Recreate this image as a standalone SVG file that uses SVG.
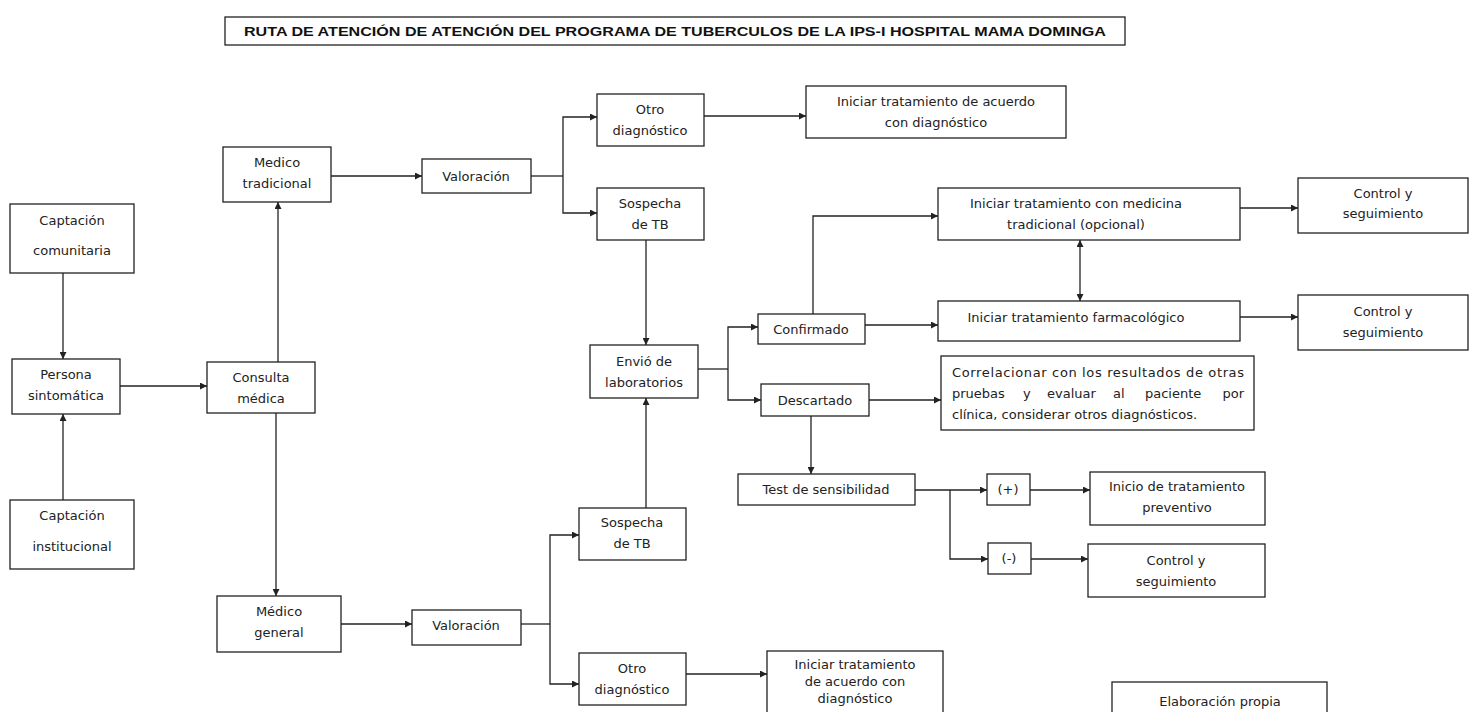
<svg xmlns="http://www.w3.org/2000/svg" width="1469" height="712" viewBox="0 0 1469 712">
  <style>
    .box { fill: #ffffff; stroke: #222222; stroke-width: 1.3; }
    .t { font-family: "DejaVu Sans", "Liberation Sans", sans-serif; font-size: 13px; fill: #222222; text-anchor: middle; dominant-baseline: central; }
    .tl { font-family: "DejaVu Sans", "Liberation Sans", sans-serif; font-size: 13px; fill: #222222; dominant-baseline: central; }
    .title { font-family: "Liberation Sans", "DejaVu Sans", sans-serif; font-size: 12.5px; font-weight: bold; fill: #111111; text-anchor: middle; dominant-baseline: central; }
    .c { fill: none; stroke: #222222; stroke-width: 1.3; }
  </style>
  <defs>
    <marker id="arrow" viewBox="0 0 10 10" refX="10" refY="5" markerWidth="8" markerHeight="7" markerUnits="userSpaceOnUse" orient="auto-start-reverse">
      <path d="M0,0 L10,5 L0,10 z" fill="#222222"/>
    </marker>
  </defs>
  <rect width="1469" height="712" fill="#ffffff"/>

  <!-- title -->
  <g id="title">
    <rect class="box" x="225" y="17" width="900" height="28"/>
    <text class="title" x="675" y="31.5" textLength="862" lengthAdjust="spacingAndGlyphs">RUTA DE ATENCIÓN DE ATENCIÓN DEL PROGRAMA DE TUBERCULOS DE LA IPS-I HOSPITAL MAMA DOMINGA</text>
  </g>

  <!-- connectors -->
  <g id="connectors">
    <path class="c" d="M63,273 V359" marker-end="url(#arrow)"/>
    <path class="c" d="M63,500 V414" marker-end="url(#arrow)"/>
    <path class="c" d="M120,386 H207" marker-end="url(#arrow)"/>
    <path class="c" d="M278,362 V202" marker-end="url(#arrow)"/>
    <path class="c" d="M276,413 V596" marker-end="url(#arrow)"/>
    <path class="c" d="M331,176 H422" marker-end="url(#arrow)"/>
    <path class="c" d="M531,176 H563"/>
    <path class="c" d="M563,176 V117 H597" marker-end="url(#arrow)"/>
    <path class="c" d="M563,176 V213 H597" marker-end="url(#arrow)"/>
    <path class="c" d="M704,116 H806" marker-end="url(#arrow)"/>
    <path class="c" d="M646,240 V345" marker-end="url(#arrow)"/>
    <path class="c" d="M341,624 H412" marker-end="url(#arrow)"/>
    <path class="c" d="M521,624 H550"/>
    <path class="c" d="M550,624 V535 H579" marker-end="url(#arrow)"/>
    <path class="c" d="M550,624 V684 H579" marker-end="url(#arrow)"/>
    <path class="c" d="M686,674 H767" marker-end="url(#arrow)"/>
    <path class="c" d="M646,508 V398" marker-end="url(#arrow)"/>
    <path class="c" d="M698,369 H728"/>
    <path class="c" d="M728,369 V327 H758" marker-end="url(#arrow)"/>
    <path class="c" d="M728,369 V400 H761" marker-end="url(#arrow)"/>
    <path class="c" d="M865,325 H938" marker-end="url(#arrow)"/>
    <path class="c" d="M813,314 V216 H938" marker-end="url(#arrow)"/>
    <path class="c" d="M1080,240 V301" marker-start="url(#arrow)" marker-end="url(#arrow)"/>
    <path class="c" d="M1240,208 H1298" marker-end="url(#arrow)"/>
    <path class="c" d="M1240,317 H1298" marker-end="url(#arrow)"/>
    <path class="c" d="M869,400 H941" marker-end="url(#arrow)"/>
    <path class="c" d="M811,416 V474" marker-end="url(#arrow)"/>
    <path class="c" d="M915,490 H950"/>
    <path class="c" d="M950,490 H987" marker-end="url(#arrow)"/>
    <path class="c" d="M950,490 V559 H988" marker-end="url(#arrow)"/>
    <path class="c" d="M1030,490 H1090" marker-end="url(#arrow)"/>
    <path class="c" d="M1031,559 H1088" marker-end="url(#arrow)"/>
  </g>

  <!-- nodes -->
  <g id="captacion-comunitaria">
    <rect class="box" x="10" y="204" width="124" height="69"/>
    <text class="t" x="72" y="220">Captación</text>
    <text class="t" x="72" y="250">comunitaria</text>
  </g>
  <g id="persona-sintomatica">
    <rect class="box" x="12" y="359" width="108" height="55"/>
    <text class="t" x="66" y="374">Persona</text>
    <text class="t" x="66" y="395">sintomática</text>
  </g>
  <g id="captacion-institucional">
    <rect class="box" x="10" y="500" width="124" height="69"/>
    <text class="t" x="72" y="515">Captación</text>
    <text class="t" x="72" y="546">institucional</text>
  </g>
  <g id="consulta-medica">
    <rect class="box" x="207" y="362" width="108" height="51"/>
    <text class="t" x="261" y="377">Consulta</text>
    <text class="t" x="261" y="398">médica</text>
  </g>
  <g id="medico-tradicional">
    <rect class="box" x="223" y="147" width="108" height="55"/>
    <text class="t" x="277" y="162">Medico</text>
    <text class="t" x="277" y="183">tradicional</text>
  </g>
  <g id="medico-general">
    <rect class="box" x="217" y="596" width="124" height="56"/>
    <text class="t" x="279" y="611">Médico</text>
    <text class="t" x="279" y="632">general</text>
  </g>
  <g id="valoracion-1">
    <rect class="box" x="422" y="159" width="109" height="34"/>
    <text class="t" x="476" y="176">Valoración</text>
  </g>
  <g id="valoracion-2">
    <rect class="box" x="412" y="610" width="109" height="35"/>
    <text class="t" x="466" y="625">Valoración</text>
  </g>
  <g id="otro-diagnostico-1">
    <rect class="box" x="597" y="94" width="107" height="52"/>
    <text class="t" x="650" y="109">Otro</text>
    <text class="t" x="650" y="130">diagnóstico</text>
  </g>
  <g id="sospecha-tb-1">
    <rect class="box" x="597" y="188" width="107" height="52"/>
    <text class="t" x="650" y="203">Sospecha</text>
    <text class="t" x="650" y="224">de TB</text>
  </g>
  <g id="iniciar-acuerdo-1">
    <rect class="box" x="806" y="86" width="260" height="52"/>
    <text class="t" x="936" y="101">Iniciar tratamiento de acuerdo</text>
    <text class="t" x="936" y="122">con diagnóstico</text>
  </g>
  <g id="envio-laboratorios">
    <rect class="box" x="590" y="345" width="108" height="53"/>
    <text class="t" x="644" y="361">Envió de</text>
    <text class="t" x="644" y="382">laboratorios</text>
  </g>
  <g id="sospecha-tb-2">
    <rect class="box" x="579" y="508" width="107" height="52"/>
    <text class="t" x="632" y="522">Sospecha</text>
    <text class="t" x="632" y="543">de TB</text>
  </g>
  <g id="otro-diagnostico-2">
    <rect class="box" x="579" y="653" width="107" height="52"/>
    <text class="t" x="632" y="668">Otro</text>
    <text class="t" x="632" y="689">diagnóstico</text>
  </g>
  <g id="iniciar-acuerdo-2">
    <rect class="box" x="767" y="651" width="176" height="62"/>
    <text class="t" x="855" y="664">Iniciar tratamiento</text>
    <text class="t" x="855" y="681">de acuerdo con</text>
    <text class="t" x="855" y="698">diagnóstico</text>
  </g>
  <g id="confirmado">
    <rect class="box" x="758" y="314" width="107" height="30"/>
    <text class="t" x="811" y="329">Confirmado</text>
  </g>
  <g id="descartado">
    <rect class="box" x="761" y="384" width="108" height="32"/>
    <text class="t" x="815" y="400">Descartado</text>
  </g>
  <g id="iniciar-medicina-tradicional">
    <rect class="box" x="938" y="188" width="302" height="52"/>
    <text class="t" x="1076" y="203">Iniciar tratamiento con medicina</text>
    <text class="t" x="1076" y="224">tradicional (opcional)</text>
  </g>
  <g id="iniciar-farmacologico">
    <rect class="box" x="938" y="301" width="302" height="40"/>
    <text class="t" x="1076" y="317">Iniciar tratamiento farmacológico</text>
  </g>
  <g id="control-1">
    <rect class="box" x="1298" y="178" width="170" height="55"/>
    <text class="t" x="1383" y="193">Control y</text>
    <text class="t" x="1383" y="213">seguimiento</text>
  </g>
  <g id="control-2">
    <rect class="box" x="1298" y="295" width="170" height="55"/>
    <text class="t" x="1383" y="311">Control y</text>
    <text class="t" x="1383" y="332">seguimiento</text>
  </g>
  <g id="correlacionar">
    <rect class="box" x="941" y="356" width="313" height="74"/>
    <text class="tl" x="952" y="372" textLength="292" lengthAdjust="spacing">Correlacionar con los resultados de otras</text>
    <text class="tl" y="393"><tspan x="952">pruebas</tspan><tspan x="1023">y</tspan><tspan x="1047">evaluar</tspan><tspan x="1113">al</tspan><tspan x="1145">paciente</tspan></text>
    <text class="tl" x="1244" y="393" text-anchor="end">por</text>
    <text class="tl" x="952" y="414">clínica, considerar otros diagnósticos.</text>
  </g>
  <g id="test-sensibilidad">
    <rect class="box" x="738" y="474" width="177" height="31"/>
    <text class="t" x="826" y="489">Test de sensibilidad</text>
  </g>
  <g id="positivo">
    <rect class="box" x="987" y="474" width="43" height="31"/>
    <text class="t" x="1008" y="489">(+)</text>
  </g>
  <g id="negativo">
    <rect class="box" x="988" y="543" width="43" height="31"/>
    <text class="t" x="1009" y="558">(-)</text>
  </g>
  <g id="tratamiento-preventivo">
    <rect class="box" x="1090" y="472" width="175" height="53"/>
    <text class="t" x="1177" y="486">Inicio de tratamiento</text>
    <text class="t" x="1177" y="507">preventivo</text>
  </g>
  <g id="control-3">
    <rect class="box" x="1088" y="544" width="177" height="53"/>
    <text class="t" x="1176" y="560">Control y</text>
    <text class="t" x="1176" y="581">seguimiento</text>
  </g>
  <g id="elaboracion-propia">
    <rect class="box" x="1112" y="682" width="215" height="40"/>
    <text class="t" x="1220" y="701">Elaboración propia</text>
  </g>
</svg>
